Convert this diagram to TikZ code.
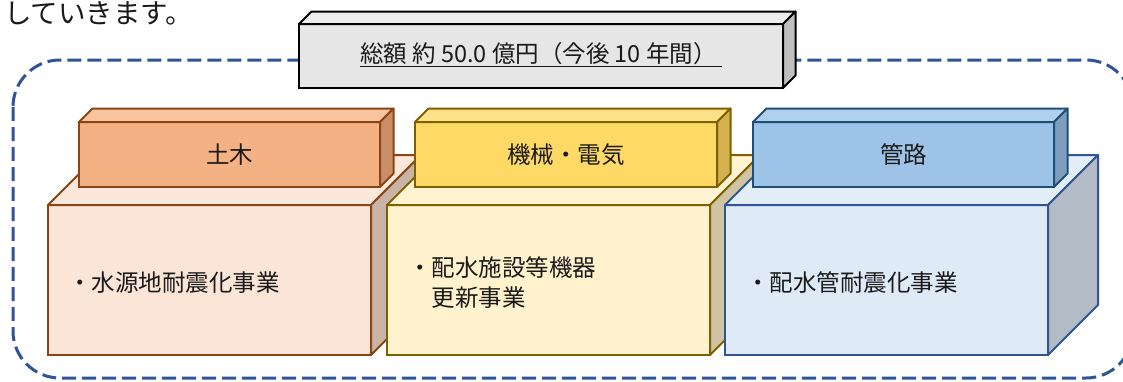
\documentclass[tikz,border=0pt]{standalone}
\usepackage{fontspec}
\newfontfamily\jp{Noto Sans CJK JP}
\usetikzlibrary{calc}
\definecolor{frameblue}{HTML}{2F5597}
\definecolor{txt}{HTML}{1A1A1A}
\definecolor{gfront}{HTML}{E6E6E6}
\definecolor{gtop}{HTML}{EDEDED}
\definecolor{gside}{HTML}{BFBFBF}
\definecolor{obord}{HTML}{8B4513}
\definecolor{obarf}{HTML}{F4B183}
\definecolor{obart}{HTML}{F7C4A0}
\definecolor{obars}{HTML}{C98E68}
\definecolor{obigf}{HTML}{FBE5D6}
\definecolor{obigt}{HTML}{FCE8DA}
\definecolor{obigs}{HTML}{C9B4A8}
\definecolor{ybord}{HTML}{7F6000}
\definecolor{ybarf}{HTML}{FFD966}
\definecolor{ybart}{HTML}{FFE18A}
\definecolor{ybars}{HTML}{D4B04E}
\definecolor{ybigf}{HTML}{FFF2CC}
\definecolor{ybigt}{HTML}{FFF3D1}
\definecolor{ybigs}{HTML}{CFC3A3}
\definecolor{bbord}{HTML}{2F5597}
\definecolor{bbarbord}{HTML}{1F4E79}
\definecolor{bbarf}{HTML}{9DC3E6}
\definecolor{bbart}{HTML}{B0D0EE}
\definecolor{bbars}{HTML}{7F9EBE}
\definecolor{bbigf}{HTML}{DEEBF7}
\definecolor{bbigt}{HTML}{E3EEF9}
\definecolor{bbigs}{HTML}{B3BCC6}
% #1 name, #2 centre, #3 width, #4 height, #5 depth, #6 front, #7 top, #8 side, #9 border
\newcommand\cuboid[9]{%
  \node[draw=#9, fill=#6, minimum width=#3, minimum height=#4, inner sep=0pt, outer sep=0pt, line width=2pt] (#1) at #2 {};
  \draw[draw=#9, fill=#7, line width=2pt, line join=round] (#1.north west) -- ++(#5,-#5) -- ($(#1.north east)+(#5,-#5)$) -- (#1.north east) -- cycle;
  \draw[draw=#9, fill=#8, line width=2pt, line join=round] (#1.north east) -- ++(#5,-#5) -- ($(#1.south east)+(#5,-#5)$) -- (#1.south east) -- cycle;
}
\begin{document}
\begin{tikzpicture}[x=1pt,y=-1pt,
  jtext/.style={font=\jp\fontsize{23.5}{30}\selectfont, text=txt, inner sep=0pt},
  frame/.style={draw=frameblue, line width=3pt, dash pattern=on 14pt off 6pt, rounded corners=47pt}]
\useasboundingbox (0,0) rectangle (1123,381);
\fill[white] (0,0) rectangle (1123,381);

\node[jtext, font=\jp\fontsize{27.5}{30}\selectfont, anchor=west] (intro) at (4,13) {していきます。};

\draw[frame] (13,60) rectangle (1133,378);

% total
\cuboid{total}{(541,56)}{484pt}{64pt}{12.5}{gfront}{gtop}{gside}{black}
\node[jtext, anchor=center] (totaltext) at (541,55) {\underline{総額 約 50.0 億円（今後 10 年間）\ }};

% civil
\cuboid{civbig}{(209.5,280)}{323pt}{150pt}{50}{obigf}{obigt}{obigs}{obord}
\cuboid{civbar}{(229.5,154.5)}{301pt}{65pt}{13.5}{obarf}{obart}{obars}{obord}
\node[jtext] (civlabel) at (civbar) {土木};
\node[jtext, anchor=west] (civitem) at (68,283) {・水源地耐震化事業};

% mechanical / electrical
\cuboid{mecbig}{(548.5,280)}{323pt}{150pt}{50}{ybigf}{ybigt}{ybigs}{ybord}
\cuboid{mecbar}{(566,154.5)}{302pt}{65pt}{13.5}{ybarf}{ybart}{ybars}{ybord}
\node[jtext] (meclabel) at (mecbar) {機械・電気};
\node[jtext, anchor=west, align=left] (mecitem) at (408,283) {・配水施設等機器\\\phantom{・}更新事業};

% pipes
\cuboid{pipbig}{(886.5,280)}{323pt}{150pt}{50}{bbigf}{bbigt}{bbigs}{bbord}
\cuboid{pipbar}{(903.5,154.5)}{301pt}{65pt}{13.5}{bbarf}{bbart}{bbars}{bbarbord}
\node[jtext] (piplabel) at (pipbar) {管路};
\node[jtext, anchor=west] (pipitem) at (746,283) {・配水管耐震化事業};
\end{tikzpicture}
\end{document}
